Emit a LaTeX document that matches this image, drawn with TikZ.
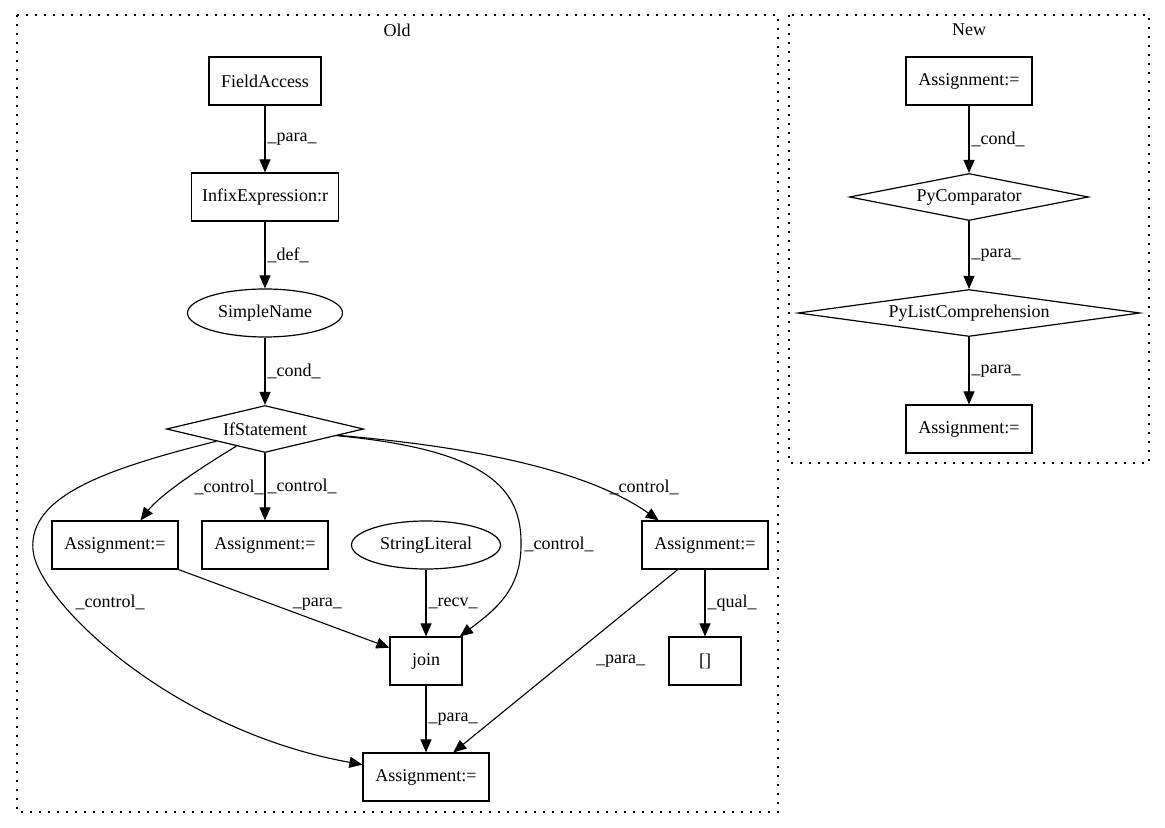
\documentclass[tikz,border=0pt]{standalone}
\usepackage{fontspec}
\setmainfont{Liberation Serif}
\usetikzlibrary{shapes.geometric,arrows.meta}

\begin{document}
\begin{tikzpicture}[x=0.5pt,y=-0.5pt,
        every node/.style={font=\fontsize{9}{11}\selectfont},
        box/.style={draw,line width=0.6pt,inner sep=0pt,minimum height=24pt},
        oval/.style={draw,ellipse,line width=0.6pt,inner sep=0pt,minimum height=24pt},
        cond/.style={draw,diamond,line width=0.6pt,inner sep=0pt,minimum height=23.5pt},
        flow/.style={line width=0.55pt,-{Triangle[length=6.5pt,width=5.5pt]}},
        lbl/.style={anchor=west,inner sep=0pt,xshift=1pt},
        cluster/.style={line width=0.6pt,dash pattern=on 1pt off 3.5pt}]
        \useasboundingbox (0,0) rectangle (1165,828);

        % clusters
        \draw[cluster] (17,15) rectangle (778,812);
        \node (old) at (397,30) {Old};
        \draw[cluster] (789,15) rectangle (1149,463);
        \node (new) at (969,30) {New};

        % old nodes
        \node[box,minimum width=56pt] (fa) at (265,81) {FieldAccess};
        \node[box,minimum width=73.5pt] (infix) at (265,197) {InfixExpression:r};
        \node[oval,minimum width=77.5pt] (sname) at (265,313) {SimpleName};
        \node[cond,aspect=4.2,minimum width=98.5pt] (ifst) at (265,429) {IfStatement};
        \node[box,minimum width=63pt] (asgA) at (115,545) {Assignment:=};
        \node[box,minimum width=63pt] (asgB) at (265,545) {Assignment:=};
        \node[oval,minimum width=74.5pt] (strlit) at (426,545) {StringLiteral};
        \node[box,minimum width=63pt] (asgC) at (705,545) {Assignment:=};
        \node[box,minimum width=36pt] (join) at (426,661) {join};
        \node[box,minimum width=36pt] (idx) at (705,661) {[]};
        \node[box,minimum width=63pt] (asgD) at (426,777) {Assignment:=};

        % new nodes
        \node[box,minimum width=63pt] (nasgA) at (969,81) {Assignment:=};
        \node[cond,aspect=5,minimum width=119.5pt] (cmp) at (969,197) {PyComparator};
        \node[cond,aspect=7,minimum width=171pt] (lcomp) at (969,313) {PyListComprehension};
        \node[box,minimum width=63pt] (nasgB) at (969,429) {Assignment:=};

        % old edges
        \draw[flow] (fa) -- (infix) node[lbl,midway] {\_para\_};
        \draw[flow] (infix) -- (sname) node[lbl,midway] {\_def\_};
        \draw[flow] (sname) -- (ifst) node[lbl,midway] {\_cond\_};
        \draw[flow] (ifst) .. controls (200,468) and (160,495) .. (asgA.44) node[lbl] at (192,487) {\_control\_};
        \draw[flow] (ifst) -- (asgB) node[lbl,midway] {\_control\_};
        \draw[flow] (ifst) .. controls (490,450) and (522,490) .. (521,545) .. controls (521,590) and (495,610) .. (join.36) node[lbl] at (522,544) {\_control\_};
        \draw[flow] (ifst) .. controls (450,445) and (580,465) .. (asgC.152) node[lbl] at (607,487) {\_control\_};
        \draw[flow] (ifst) .. controls (110,468) and (28,495) .. (33,550) .. controls (37,600) and (170,730) .. (asgD.169) node[lbl] at (73,602) {\_control\_};
        \draw[flow] (asgA.south east) -- (join.160) node[lbl,pos=0.53,anchor=south west] {\_para\_};
        \draw[flow] (strlit) -- (join) node[lbl,midway] {\_recv\_};
        \draw[flow] (join) -- (asgD) node[lbl,midway] {\_para\_};
        \draw[flow] (asgC.222) -- (asgD.42) node[lbl,pos=0.5,xshift=14pt] {\_para\_};
        \draw[flow] (asgC) -- (idx) node[lbl,midway] {\_qual\_};

        % new edges
        \draw[flow] (nasgA) -- (cmp) node[lbl,midway] {\_cond\_};
        \draw[flow] (cmp) -- (lcomp) node[lbl,midway] {\_para\_};
        \draw[flow] (lcomp) -- (nasgB) node[lbl,midway] {\_para\_};
\end{tikzpicture}
\end{document}
